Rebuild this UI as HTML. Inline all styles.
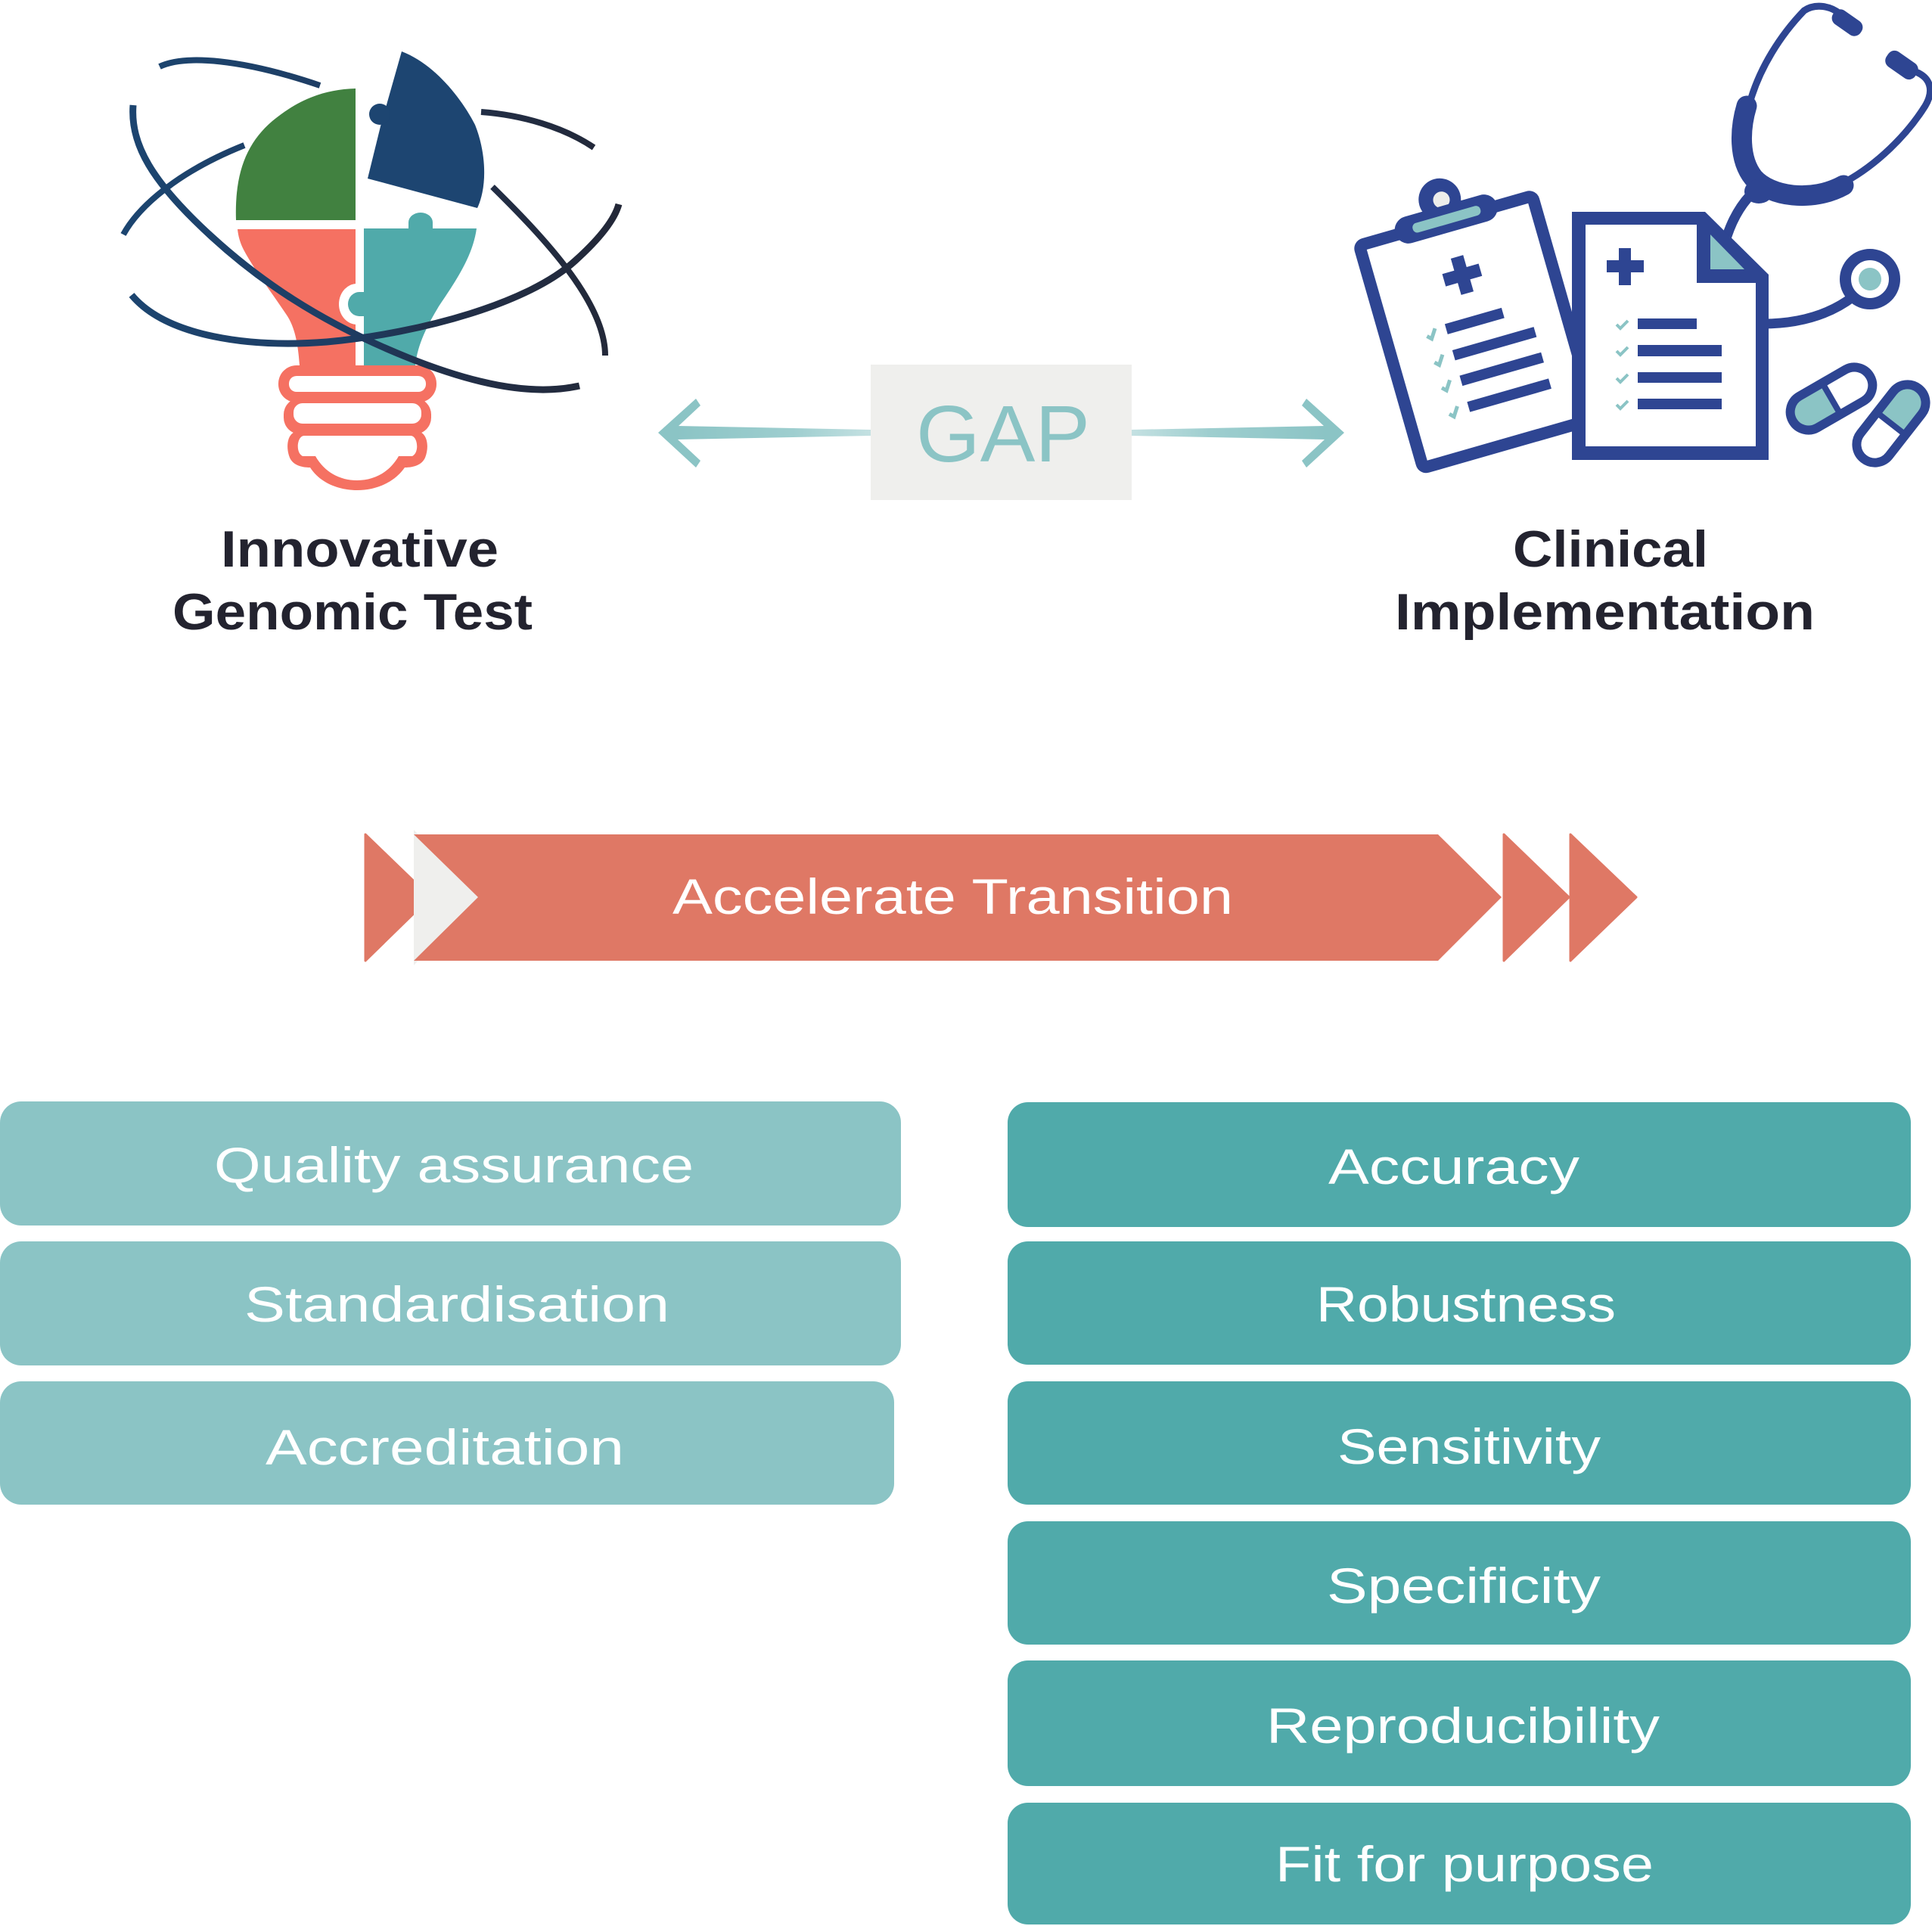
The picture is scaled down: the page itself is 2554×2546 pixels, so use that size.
<!DOCTYPE html>
<html><head><meta charset="utf-8"><style>
html,body{margin:0;padding:0;background:#ffffff;}
svg{display:block;}
</style></head><body>
<svg width="2554" height="2546" viewBox="0 0 2554 2546" xmlns="http://www.w3.org/2000/svg">
<defs>
<linearGradient id="orb" gradientUnits="userSpaceOnUse" x1="160" y1="0" x2="820" y2="0">
<stop offset="0" stop-color="#1C4570"/><stop offset="0.45" stop-color="#1E3D63"/><stop offset="0.62" stop-color="#21304A"/><stop offset="1" stop-color="#232838"/>
</linearGradient>
<linearGradient id="sl" gradientUnits="userSpaceOnUse" x1="895" y1="0" x2="1151" y2="0"><stop offset="0" stop-color="#8BC4C5"/><stop offset="0.6" stop-color="#9ECECF"/><stop offset="1" stop-color="#C4E1E2"/></linearGradient>
<linearGradient id="sr" gradientUnits="userSpaceOnUse" x1="1752" y1="0" x2="1496" y2="0"><stop offset="0" stop-color="#8BC4C5"/><stop offset="0.6" stop-color="#9ECECF"/><stop offset="1" stop-color="#C4E1E2"/></linearGradient>
</defs>
<rect width="2554" height="2546" fill="#ffffff"/>

<!-- ===== Light bulb ===== -->
<path d="M314,303 H470 V483 H396 C394,455 390,432 378,415 C360,388 335,355 322,330 C317,320 315,312 314,303 Z" fill="#F57162"/>
<ellipse cx="472" cy="402" rx="24" ry="27" fill="#ffffff"/>
<path d="M481,302 H540 V294 A16,13 0 0 1 572,294 V302 H630 C625,340 600,375 580,405 C565,430 552,455 549,483 H481 Z" fill="#50AAAA"/>
<ellipse cx="475" cy="402" rx="15" ry="16" fill="#50AAAA"/>
<rect x="474" y="386" width="9" height="32" fill="#50AAAA"/>
<path d="M470,117 V291 H312 C310,230 325,190 360,160 C390,135 425,118 470,117 Z" fill="#418140"/>
<path d="M531,68 C575,85 610,130 628,165 C642,200 645,245 631,275 L486,236 L503,167 L512,135 Z" fill="#1D4571"/>
<circle cx="502" cy="151" r="14" fill="#1D4571"/>

<!-- base -->
<rect x="368" y="483" width="209" height="49" rx="24" fill="#F57162"/>
<rect x="375" y="526" width="195" height="48" rx="22" fill="#F57162"/>
<path d="M395,570 H550 C565,570 568,590 562,605 C558,614 548,618 535,618 C522,637 498,648 472,648 C446,648 422,637 410,618 C397,618 387,614 383,605 C377,590 380,570 395,570 Z" fill="#F57162"/>
<rect x="382" y="497" width="181" height="21" rx="10" fill="#ffffff"/>
<rect x="388" y="533" width="169" height="27" rx="12" fill="#ffffff"/>
<path d="M402,576 H543 C552,576 555,598 545,603 H527 C515,624 495,635 472,635 C449,635 429,624 417,603 H400 C390,598 393,576 402,576 Z" fill="#ffffff"/>

<!-- orbits -->
<g fill="none" stroke="url(#orb)" stroke-width="8" stroke-linecap="butt">
<path d="M211,88 C245,72 320,78 423,113"/>
<path d="M176,139 C172,190 200,240 280,313 C340,368 420,425 540,473 C620,505 700,525 766,510" stroke-width="9"/>
<path d="M163,310 C185,270 240,225 323,192"/>
<path d="M636,148 C690,152 745,168 785,195"/>
<path d="M651,247 C720,315 800,400 800,470"/>
<path d="M174,390 C220,445 330,460 432,452 C560,440 700,400 760,345 C790,318 812,292 818,270" stroke-width="9"/>
</g>

<text x="292" y="749" font-family="Liberation Sans, sans-serif" font-weight="bold" font-size="68" fill="#23232F" textLength="367" lengthAdjust="spacingAndGlyphs">Innovative</text>
<text x="228" y="832" font-family="Liberation Sans, sans-serif" font-weight="bold" font-size="68" fill="#23232F" textLength="476" lengthAdjust="spacingAndGlyphs">Genomic Test</text>

<!-- ===== GAP ===== -->
<rect x="1151" y="482" width="345" height="179" fill="#EFEFED"/>
<text x="1211" y="610" font-family="Liberation Sans, sans-serif" font-size="106" fill="#8BC4C5" textLength="230" lengthAdjust="spacingAndGlyphs">GAP</text>
<polygon points="895,563 1151,568 1151,576 895,581" fill="url(#sl)"/>
<polygon points="870,572 920,527 926,536 896,564 896,581 926,609 920,618" fill="#8BC4C5"/>
<polygon points="1752,563 1496,568 1496,576 1752,581" fill="url(#sr)"/>
<polygon points="1777,572 1727,527 1721,536 1751,564 1751,581 1721,609 1727,618" fill="#8BC4C5"/>

<!-- ===== Clinical icon ===== -->
<g fill="none" stroke="#2E4592" stroke-linecap="round">
<path d="M2283,312 C2292,285 2305,265 2322,250" stroke-width="13"/>
</g>
<g transform="translate(1787,319) rotate(-16)">
<rect x="8" y="8" width="238" height="306" rx="6" fill="#ffffff" stroke="#2E4592" stroke-width="16" stroke-linejoin="round"/>
<circle cx="127" cy="-21" r="28" fill="#2E4592"/>
<circle cx="129" cy="-20" r="11" fill="#EDEDEB"/>
<rect x="58" y="-12" width="140" height="36" rx="18" fill="#2E4592"/>
<rect x="82" y="0" width="93" height="13" rx="6" fill="#8BC4C5"/>
<rect x="119.5" y="58" width="17" height="50" fill="#2E4592"/>
<rect x="103" y="74.5" width="50" height="17" fill="#2E4592"/>
<rect x="88" y="139" width="78" height="14" fill="#2E4592"/>
<rect x="88" y="175" width="112" height="14" fill="#2E4592"/>
<rect x="88" y="210" width="112" height="14" fill="#2E4592"/>
<rect x="88" y="246" width="112" height="14" fill="#2E4592"/>
<g fill="none" stroke="#8BC4C5" stroke-width="5">
<polyline points="61,148 66,153 74,141"/>
<polyline points="61,184 66,189 74,177"/>
<polyline points="61,219 66,224 74,212"/>
<polyline points="61,255 66,260 74,248"/>
</g>
</g>
<!-- document -->
<polygon points="2078,280 2254,280 2338,363 2338,608 2078,608" fill="#2E4592"/>
<polygon points="2096,297 2243,297 2243,374 2321,374 2321,590 2096,590" fill="#ffffff"/>
<polygon points="2261,310 2261,356 2306,356" fill="#8BC4C5"/>
<rect x="2140" y="328" width="16" height="49" fill="#2E4592"/>
<rect x="2124" y="344" width="49" height="16" fill="#2E4592"/>
<rect x="2165" y="421" width="78" height="14" fill="#2E4592"/>
<rect x="2165" y="456" width="111" height="15" fill="#2E4592"/>
<rect x="2165" y="492" width="111" height="14" fill="#2E4592"/>
<rect x="2165" y="527" width="111" height="14" fill="#2E4592"/>
<g fill="none" stroke="#8BC4C5" stroke-width="4">
<polyline points="2137,429 2142,434 2152,424"/>
<polyline points="2137,464 2142,469 2152,459"/>
<polyline points="2137,500 2142,505 2152,495"/>
<polyline points="2137,535 2142,540 2152,530"/>
</g>
<!-- stethoscope -->
<g fill="none" stroke="#2E4592" stroke-linecap="round">
<path d="M2312,140 C2325,90 2355,45 2385,14 C2400,4 2420,8 2432,18" stroke-width="9"/>
<path d="M2440,240 C2480,218 2520,180 2545,140 C2558,118 2550,103 2535,96" stroke-width="9"/>
<path d="M2309,140 C2300,170 2298,210 2318,235 C2340,260 2395,268 2437,245" stroke-width="27"/>
<path d="M2330,428 C2380,428 2420,415 2450,392" stroke-width="13" stroke-linecap="butt"/>
</g>
<ellipse cx="2325" cy="253" rx="19" ry="16" fill="#2E4592"/>
<rect x="2420" y="19" width="44" height="22" rx="10" fill="#2E4592" transform="rotate(35 2442 30)"/>
<rect x="2491" y="74" width="46" height="24" rx="10" fill="#2E4592" transform="rotate(35 2514 86)"/>
<circle cx="2472" cy="369" r="32.5" fill="#ffffff" stroke="#2E4592" stroke-width="15"/>
<circle cx="2472" cy="369" r="15" fill="#8BC4C5"/>
<!-- pills -->
<g transform="translate(2421,527) rotate(-30)">
<rect x="-59" y="-24" width="118" height="48" rx="24" fill="#ffffff"/>
<path d="M0,-24 H-35 A24,24 0 0 0 -35,24 H0 Z" fill="#8BC4C5"/>
<rect x="-59" y="-24" width="118" height="48" rx="24" fill="none" stroke="#2E4592" stroke-width="12"/>
<line x1="0" y1="-24" x2="0" y2="24" stroke="#2E4592" stroke-width="8"/>
</g>
<g transform="translate(2500,560) rotate(-52)">
<rect x="-59" y="-24" width="118" height="48" rx="24" fill="#ffffff"/>
<path d="M0,-24 H35 A24,24 0 0 1 35,24 H0 Z" fill="#8BC4C5"/>
<rect x="-59" y="-24" width="118" height="48" rx="24" fill="none" stroke="#2E4592" stroke-width="12"/>
<line x1="0" y1="-24" x2="0" y2="24" stroke="#2E4592" stroke-width="8"/>
</g>

<text x="2000" y="749" font-family="Liberation Sans, sans-serif" font-weight="bold" font-size="68" fill="#23232F" textLength="258" lengthAdjust="spacingAndGlyphs">Clinical</text>
<text x="1844" y="832" font-family="Liberation Sans, sans-serif" font-weight="bold" font-size="68" fill="#23232F" textLength="555" lengthAdjust="spacingAndGlyphs">Implementation</text>

<!-- ===== Accelerate bar ===== -->
<polygon points="483,1103 569,1186 483,1270" fill="#DF7865" stroke="#DF7865" stroke-width="3" stroke-linejoin="round"/>
<polygon points="547,1097 633,1186 547,1276" fill="#EFEFED"/>
<polygon points="547,1103 1901,1103 1985,1186 1901,1270 547,1270 632,1186" fill="#DF7865"/>
<polygon points="1988,1103 2074,1186 1988,1270" fill="#DF7865" stroke="#DF7865" stroke-width="3" stroke-linejoin="round"/>
<polygon points="2076,1103 2163,1186 2076,1270" fill="#DF7865" stroke="#DF7865" stroke-width="3" stroke-linejoin="round"/>
<text x="889" y="1208" font-family="Liberation Sans, sans-serif" font-size="66" fill="#ffffff" textLength="741" lengthAdjust="spacingAndGlyphs">Accelerate Transition</text>

<!-- ===== Left boxes ===== -->
<rect x="0" y="1456" width="1191" height="164" rx="28" fill="#8BC4C5"/>
<rect x="0" y="1641" width="1191" height="164" rx="28" fill="#8BC4C5"/>
<rect x="0" y="1826" width="1182" height="163" rx="28" fill="#8BC4C5"/>
<g font-family="Liberation Sans, sans-serif" font-size="66" fill="#ffffff">
<text x="283" y="1563" textLength="634" lengthAdjust="spacingAndGlyphs">Quality assurance</text>
<text x="323" y="1747" textLength="562" lengthAdjust="spacingAndGlyphs">Standardisation</text>
<text x="351" y="1936" textLength="474" lengthAdjust="spacingAndGlyphs">Accreditation</text>
</g>

<!-- ===== Right boxes ===== -->
<g fill="#50AAAA">
<rect x="1332" y="1457" width="1194" height="165" rx="27"/>
<rect x="1332" y="1641" width="1194" height="163" rx="27"/>
<rect x="1332" y="1826" width="1194" height="163" rx="27"/>
<rect x="1332" y="2011" width="1194" height="163" rx="27"/>
<rect x="1332" y="2195" width="1194" height="166" rx="27"/>
<rect x="1332" y="2383" width="1194" height="161" rx="27"/>
</g>
<g font-family="Liberation Sans, sans-serif" font-size="66" fill="#ffffff">
<text x="1756" y="1565" textLength="332" lengthAdjust="spacingAndGlyphs">Accuracy</text>
<text x="1740" y="1747" textLength="396" lengthAdjust="spacingAndGlyphs">Robustness</text>
<text x="1768" y="1935" textLength="348" lengthAdjust="spacingAndGlyphs">Sensitivity</text>
<text x="1754" y="2119" textLength="362" lengthAdjust="spacingAndGlyphs">Specificity</text>
<text x="1674" y="2304" textLength="520" lengthAdjust="spacingAndGlyphs">Reproducibility</text>
<text x="1686" y="2487" textLength="500" lengthAdjust="spacingAndGlyphs">Fit for purpose</text>
</g>
</svg>
</body></html>
